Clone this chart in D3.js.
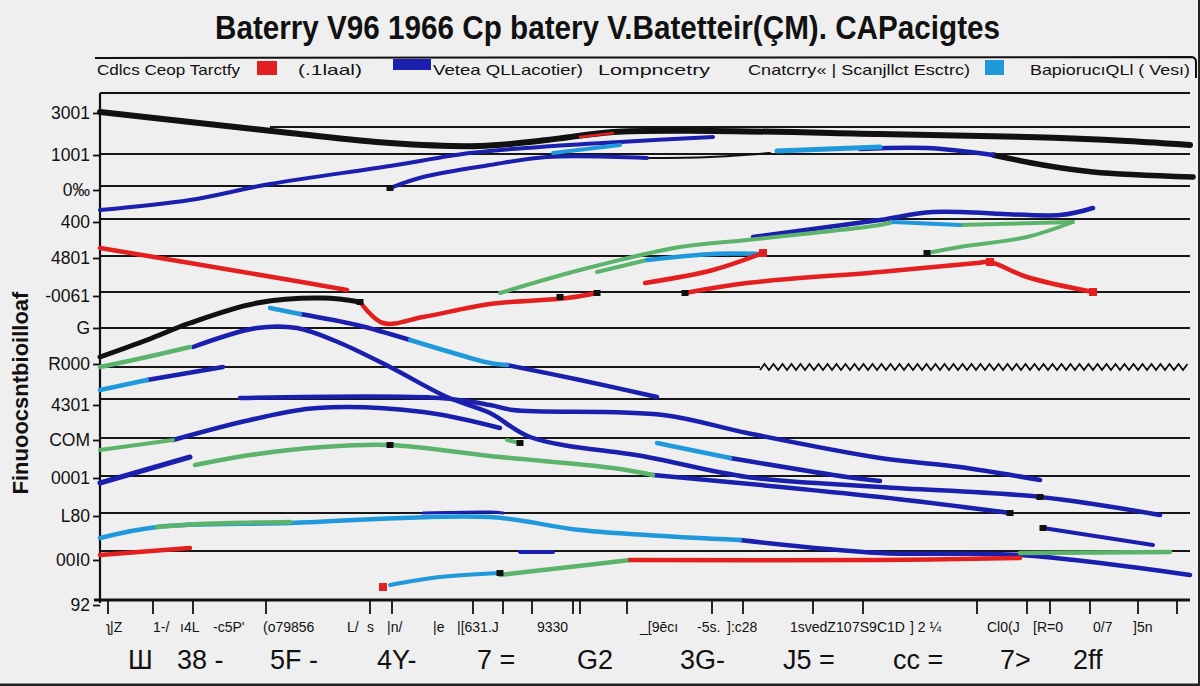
<!DOCTYPE html>
<html><head><meta charset="utf-8">
<script src="https://cdn.jsdelivr.net/npm/d3@7"></script>
<style>
html,body{margin:0;padding:0;background:#efefef;}
svg{display:block;font-family:"Liberation Sans",Arial,sans-serif;}
</style></head>
<body><svg id="c" width="1200" height="686"></svg>
<script>
// ---------- text ----------
const titleText = "Baterry V96 1966 Cp batery V.Batetteir(ÇM). CAPacigtes";
const yTitle = "Finuoocsntbioilloaf";
const legendTexts = ["Cdlcs Ceop Tarctfy", "(.1laal)", "Vetea QLLacotier)", "Lompncetry", "Cnatcrry« | Scanjllct Esctrc)", "BapiorucıQLl ( Vesı)"];

// ---------- y axis categories ----------
const yTickVals   = [48.7, 44.5, 41.0, 37.8, 34.2, 30.4, 27.2, 23.6, 19.5, 16.0, 12.2, 8.4, 4.0, -0.5];
const yTickLabels = ["3001", "1001", "0‰", "400", "4801", "-0061", "G", "R000", "4301", "COM", "0001", "L80", "00I0", "92"];
const gridVals    = [44.6, 41.4, 38.1, 34.4, 30.8, 27.2, 20.1, 16.2, 12.4, 8.7, 4.9];

// ---------- x axis labels ----------
const xMinorVals   = [0.7, 5.3, 8, 11.3, 16.3, 24.7, 26.7, 28.7, 33.3, 35.7, 43.7, 54, 59.7, 62.7, 69, 75.2, 81, 88.7, 93.3, 99.3, 103.3];
const xMinorLabels = ["ʅ|Z", "1-/", "ı4L", "-c5P'", "(o79856", "L/", "s", "|n/", "|e", "|[631.J", "9330", "_[9ēcı", "-5s.", "]:c28", "1svedZ10", "7S9C1D", "] 2 ¼", "Cl0(J", "[R=0", "0/7", "]5n"];
const xMajorVals   = [2.8, 7.7, 17, 27.7, 37.7, 47.7, 58, 68.3, 79.3, 90, 97.3];
const xMajorLabels = ["Ш", "38 -", "5F -", "4Y-", "7 =", "G2", "3G-", "J5 =", "cc =", "7>", "2ff"];
const xTickVals    = [0.8, 5.3, 9.3, 16.6, 27, 29.2, 37.3, 40.3, 43.2, 47.3, 48, 52.7, 61.2, 64.3, 71.3, 76.3, 87.7, 92.7, 95, 99, 103.8, 107.7];

// ---------- series (x, value) ----------
const black1 = [[0,48.8],[9,47.8],[19,46.7],[29,45.7],[38,45.4],[44.7,46],[51.3,46.8],[61.3,46.9],[78,46.6],[92.7,46.3],[102.7,45.9],[109,45.5]];
const black2 = [[89.3,44.5],[94.3,43.5],[99.3,42.8],[109.3,42.3]];
const black3 = [[0,24.3],[4.7,26],[9,27.7],[15.7,29.7],[22.3,30.2],[26,29.8]];
const blackThin = [[54.7,44.2],[61,44.3],[67,44.7]];

const red1 = [[0,35.2],[9,33.7],[19,32],[24.7,31]];
const red2 = [[26,29.8],[28.3,27.7],[32.3,28.3],[39,29.6],[46.7,30.2],[49.7,30.7]];
const red3 = [[54.5,31.7],[61.3,33],[66.3,34.7]];
const red4 = [[58.5,30.7],[64.7,31.7],[78,32.8],[87.7,33.7],[89,33.8],[92.7,32.3],[99.3,30.8]];
const red5 = [[0,4.5],[9,5.2]];
const red6 = [[53,4],[78,4],[92,4.2]];
const red7 = [[48,46.3],[51.3,46.7]];

const navy1 = [[0,39],[9,40],[17,41.6],[29,43.4],[37,44.7],[44,45.3],[52,45.8],[61.3,46.3]];
const navy2 = [[29,41.2],[32.3,42.3],[39,43.5],[44.7,44.3],[54.7,44.2]];
const navy3 = [[76,45.1],[82.7,45.2],[89.3,44.5]];
const navy4 = [[65.3,36.3],[78,38],[83.3,38.8],[96,38.5],[99.3,39.2]];
const navy5 = [[9.3,25.3],[15.7,27.2],[19.7,27.2],[24,25.7],[29,23.3],[34.7,20.3],[39,18.7],[43,16.3],[54.7,14.3],[64.7,12.3],[78,11.3],[94,10.3],[106,8.5]];
const navy6a = [[20,28.6],[25.7,27.5],[31,26]];
const navy6b = [[40.7,23.5],[48,22],[55.7,20.3]];
const navy7 = [[14,20.2],[34,20.2],[39,19.5],[41.3,19],[56.3,18.5],[64.7,16.7],[78,14.2],[86,13.3],[94,12]];
const navy8 = [[7.3,16],[15,18],[21.7,19.2],[32.3,18.8],[40,17.2]];
const navy9 = [[0,11.7],[9,14.3]];
const navy10 = [[42,4.8],[45.3,4.8]];
const navy11 = [[64,6],[78,4.7],[92,4.5],[109,2.5]];
const navy12 = [[32.3,8.7],[39,8.8],[40.3,8.7]];
const navy13 = [[94.3,7.2],[105.3,5.5]];
const navy14 = [[63,14.2],[74.7,12.3],[78,11.9]];
const navy15 = [[55.3,12.5],[78,10.3],[91,8.7]];
const navy16 = [[4.7,22],[12.3,23.3]];

const sky1 = [[0,21],[4.7,22]];
const sky2 = [[29,1.5],[34,2.3],[40,2.7]];
const sky3 = [[45.3,44.7],[52,45.5]];
const sky4 = [[67.7,44.9],[78,45.3]];
const sky5 = [[17,29.2],[20,28.6]];
const sky6 = [[31,26],[35,24.8],[39,23.7],[40.7,23.5]];
const sky7 = [[55.7,15.7],[63,14.2]];
const sky8 = [[0,6.2],[5.7,7.3],[19,7.7],[39,8.3],[48,7],[64,6]];
const sky9 = [[54.7,34],[61.3,34.6],[66.3,34.6]];
const sky10 = [[79.3,37.8],[86,37.5]];

const green1 = [[0,23.3],[4.7,24.3],[9,25.3]];
const green2 = [[0,15],[7.3,16]];
const green3 = [[9.5,13.5],[15,14.5],[22.3,15.3],[29,15.5],[39,14.4],[51.3,13.2],[55.3,12.5]];
const green4 = [[5.7,7.3],[10,7.6],[19,7.8]];
const green5 = [[40,2.5],[47,3.3],[53,4]];
const green6 = [[40,30.7],[48,33],[58,35.3],[64.7,36],[71.3,36.7],[78,37.5],[79.3,37.8]];
const green7 = [[49.7,32.8],[54.7,34]];
const green8 = [[82.7,34.7],[86,35.3],[92.7,36.3],[97.3,37.8]];
const green9 = [[86,37.5],[97.3,37.8]];
const green10 = [[92,4.7],[107,4.8]];
const green11 = [[40.7,16],[42,15.7]];

const endDots = [[29,41.2],[49.7,30.7],[58.5,30.7],[82.7,34.7],[94,10.3],[91,8.7],[94.3,7.2],[40,2.7],[29,15.5],[42,15.7],[26,29.8],[46,30.3]];
const redDots = [[28.3,1.3],[89,33.8],[99.3,30.8],[66.3,34.7]];

// ---------- drawing ----------
const svg = d3.select("#c");
const W = 1200, H = 686;
const x = d3.scaleLinear().domain([0,109]).range([100,1190]);
const y = d3.scaleLinear().domain([0,50.7]).range([600,93]);

const C = {red:"#e41f1f", navy:"#1b1fae", sky:"#1f98dc", green:"#5cb46c", black:"#111"};

svg.append("rect").attr("width",W).attr("height",H).attr("fill","#efefef");

// title
svg.append("text").attr("x",215).attr("y",39).attr("textLength",785).attr("lengthAdjust","spacingAndGlyphs")
  .attr("font-size",33).attr("font-weight","bold").attr("fill","#111").text(titleText);

// legend frame line
svg.append("path").attr("d",`M95,58 L1192,57 Q1196,58 1196,62 L1196,78`).attr("fill","none").attr("stroke","#111").attr("stroke-width",2);
const lg = svg.append("g").attr("font-size",15).attr("fill","#111");
lg.append("text").attr("x",97).attr("y",75).attr("textLength",143).attr("lengthAdjust","spacingAndGlyphs").text(legendTexts[0]);
lg.append("rect").attr("x",257).attr("y",61).attr("width",20).attr("height",14).attr("fill",C.red);
lg.append("text").attr("x",298).attr("y",75).attr("textLength",64).attr("lengthAdjust","spacingAndGlyphs").text(legendTexts[1]);
lg.append("rect").attr("x",393).attr("y",59).attr("width",38).attr("height",11).attr("fill",C.navy);
lg.append("text").attr("x",433).attr("y",75).attr("textLength",150).attr("lengthAdjust","spacingAndGlyphs").text(legendTexts[2]);
lg.append("text").attr("x",598).attr("y",75).attr("textLength",112).attr("lengthAdjust","spacingAndGlyphs").text(legendTexts[3]);
lg.append("text").attr("x",748).attr("y",75).attr("textLength",222).attr("lengthAdjust","spacingAndGlyphs").text(legendTexts[4]);
lg.append("rect").attr("x",985).attr("y",60).attr("width",19).attr("height",15).attr("fill",C.sky);
lg.append("text").attr("x",1030).attr("y",75).attr("textLength",160).attr("lengthAdjust","spacingAndGlyphs").text(legendTexts[5]);

// gridlines
const grid = svg.append("g").attr("stroke","#161616").attr("stroke-width",1.8);
gridVals.forEach(v => grid.append("line").attr("x1",x(0)).attr("x2",x(109)).attr("y1",y(v)).attr("y2",y(v)));
grid.append("line").attr("x1",x(17)).attr("x2",x(109)).attr("y1",y(47.3)).attr("y2",y(47.3));
grid.append("line").attr("x1",x(0)).attr("x2",x(66)).attr("y1",y(23.3)).attr("y2",y(23.3));
// wavy stroke continuing the 23.3 gridline
const wave = d3.range(66, 109, 0.45).map((v,i) => [x(v), y(23.3) + (i % 2 ? -3 : 3)]);
svg.append("path").attr("d", d3.line()(wave)).attr("fill","none").attr("stroke","#111").attr("stroke-width",1.8);

// top border
svg.append("line").attr("x1",x(0)).attr("x2",x(109)).attr("y1",y(50.7)).attr("y2",y(50.7)).attr("stroke","#111").attr("stroke-width",2);

// y axis
const yAxis = d3.axisLeft(y).tickValues(yTickVals).tickFormat((d,i)=>yTickLabels[i]).tickSize(7).tickPadding(3);
const ya = svg.append("g").attr("transform",`translate(${x(0)},0)`).call(yAxis);
ya.select(".domain").remove();
ya.selectAll(".tick line").attr("stroke","#111").attr("stroke-width",1.8);
ya.selectAll(".tick text").attr("font-size",17.5).attr("fill","#111").attr("font-family","Liberation Sans, Arial, sans-serif");
svg.append("line").attr("x1",x(0)).attr("x2",x(0)).attr("y1",y(50.7)).attr("y2",y(0)+3).attr("stroke","#111").attr("stroke-width",2.2);

svg.append("text").attr("transform","translate(28,393) rotate(-90)").attr("text-anchor","middle")
  .attr("font-size",22).attr("font-weight","bold").attr("fill","#111").text(yTitle);

// series
const line = d3.line().x(d=>x(d[0])).y(d=>y(d[1])).curve(d3.curveCatmullRom.alpha(0.5));
const series = [
  [black1,C.black,6],[black2,C.black,5.5],[black3,C.black,5],[blackThin,C.black,2],
  [navy1,C.navy,4],[navy2,C.navy,4],[navy3,C.navy,4.5],[navy4,C.navy,4.5],[navy5,C.navy,4.5],[navy6a,C.navy,4.5],[navy6b,C.navy,4.5],
  [navy7,C.navy,4.5],[navy8,C.navy,4.5],[navy9,C.navy,5],[navy10,C.navy,4],[navy11,C.navy,4.5],[navy12,C.navy,3],[navy13,C.navy,4],
  [navy14,C.navy,4.5],[navy15,C.navy,4.5],[navy16,C.navy,4.5],
  [green1,C.green,4.5],[green2,C.green,4],[green3,C.green,4.5],[green5,C.green,4.5],[green6,C.green,4],[green7,C.green,4],
  [green8,C.green,4],[green9,C.green,4],[green10,C.green,4.5],[green11,C.green,4],
  [sky1,C.sky,4.5],[sky2,C.sky,4],[sky3,C.sky,4],[sky4,C.sky,5],[sky5,C.sky,4.5],[sky6,C.sky,4.5],[sky7,C.sky,4.5],[sky8,C.sky,4.5],[sky9,C.sky,4.5],[sky10,C.sky,4],
  [green4,C.green,4.5],
  [red1,C.red,4.5],[red2,C.red,4.5],[red3,C.red,4.5],[red4,C.red,4.5],[red5,C.red,4.5],[red6,C.red,4.5],[red7,C.red,2.5]
];
const sg = svg.append("g").attr("fill","none").attr("stroke-linecap","round").attr("stroke-linejoin","round");
series.forEach(([data,color,w]) => sg.append("path").attr("d",line(data)).attr("stroke",color).attr("stroke-width",w));

svg.append("g").selectAll("rect.dot").data(endDots).join("rect")
  .attr("x",d=>x(d[0])-3.5).attr("y",d=>y(d[1])-3).attr("width",7).attr("height",6).attr("fill","#111");
svg.append("g").selectAll("rect.rd").data(redDots).join("rect")
  .attr("x",d=>x(d[0])-4).attr("y",d=>y(d[1])-4).attr("width",8).attr("height",8).attr("fill",C.red);

// x axis
svg.append("line").attr("x1",x(0)-6).attr("x2",x(109)).attr("y1",y(0)).attr("y2",y(0)).attr("stroke","#111").attr("stroke-width",3);
const xt = svg.append("g").attr("stroke","#111").attr("stroke-width",1.8);
xTickVals.forEach(v => xt.append("line").attr("x1",x(v)).attr("x2",x(v)).attr("y1",y(0)).attr("y2",y(0)+14));
const xl = svg.append("g").attr("fill","#111");
xMinorVals.forEach((v,i) => xl.append("text").attr("x",x(v)).attr("y",632).attr("font-size",14).text(xMinorLabels[i]));
xMajorVals.forEach((v,i) => xl.append("text").attr("x",x(v)).attr("y",669).attr("font-size",27).text(xMajorLabels[i]));

// outer frame
svg.append("line").attr("x1",0).attr("x2",W).attr("y1",H-1).attr("y2",H-1).attr("stroke","#222").attr("stroke-width",3);
svg.append("line").attr("x1",W-1).attr("x2",W-1).attr("y1",0).attr("y2",H).attr("stroke","#222").attr("stroke-width",2);
</script></body></html>
